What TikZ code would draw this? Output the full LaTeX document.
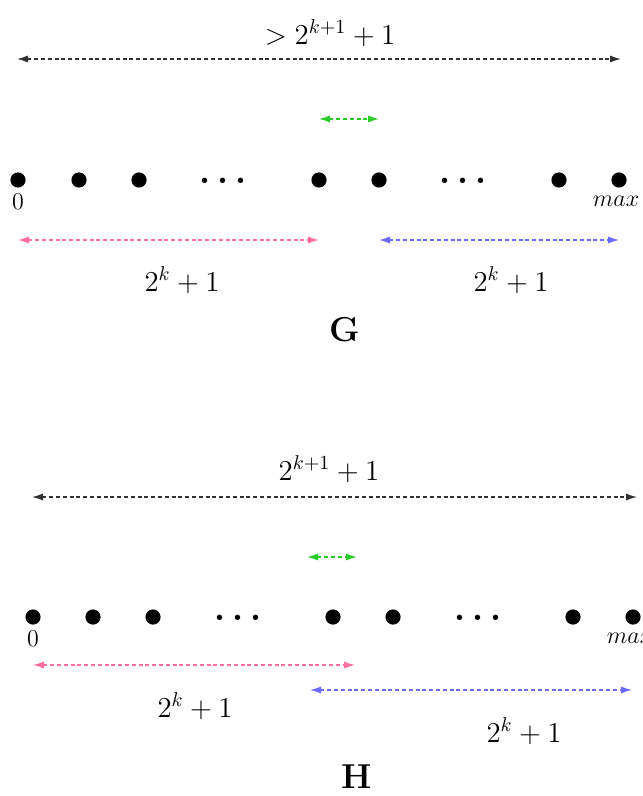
\documentclass[tikz,border=0pt]{standalone}
\usetikzlibrary{arrows.meta}
\definecolor{dkg}{RGB}{50,50,50}
\definecolor{grn}{RGB}{40,205,40}
\definecolor{pnk}{RGB}{255,110,160}
\definecolor{blu}{RGB}{105,105,255}
\begin{document}
\begin{tikzpicture}[x=0.5pt,y=-0.5pt,
  dot/.style={circle,fill=black,inner sep=0pt,minimum width=6.8pt,minimum height=7.6pt},
  span/.style={dash pattern=on 2pt off 1.4pt, line width=0.7pt, {Latex[length=5.5pt,width=3.6pt]}-{Latex[length=5.5pt,width=3.6pt]}},
  lbl/.style={font=\Large, inner sep=0pt},
  ell/.style={font=\LARGE\boldmath, inner sep=0pt},
  small/.style={font=\large, inner sep=0pt},
  title/.style={font=\LARGE\bfseries, inner sep=0pt}]
\useasboundingbox (0,0) rectangle (642,796);
% ---------------- G ----------------
\node[lbl] (gtop) at (330,33) {$>2^{k+1}+1$};
\coordinate (gtl) at (17,59);
\coordinate (gtr) at (621,59);
\draw[span,dkg] (gtl) -- (gtr);
\coordinate (ggl) at (319,119);
\coordinate (ggr) at (379,119);
\draw[span,grn] (ggl) -- (ggr);
\node[dot] (g0) at (18,180) {};
\node[dot] (g1) at (79,180) {};
\node[dot] (g2) at (139,180) {};
\node[ell] (ge1) at (223,181) {$\cdots$};
\node[dot] (g3) at (319,180) {};
\node[dot] (g4) at (379,180) {};
\node[ell] (ge2) at (463,181) {$\cdots$};
\node[dot] (g5) at (559,180) {};
\node[dot] (g6) at (619,180) {};
\node[small] (gz) at (18,202) {0};
\node[small] (gmax) at (616,201) {$max$};
\coordinate (gpl) at (18,240);
\coordinate (gpr) at (319,240);
\draw[span,pnk] (gpl) -- (gpr);
\coordinate (gbl) at (379,240);
\coordinate (gbr) at (619,240);
\draw[span,blu] (gbl) -- (gbr);
\node[lbl] (gl1) at (182,280) {$2^k+1$};
\node[lbl] (gl2) at (511,280) {$2^k+1$};
\node[title] (G) at (345,330) {G};
% ---------------- H ----------------
\node[lbl] (htop) at (329,469) {$2^{k+1}+1$};
\coordinate (htl) at (32,497);
\coordinate (htr) at (637,497);
\draw[span,dkg] (htl) -- (htr);
\coordinate (hgl) at (307,557);
\coordinate (hgr) at (357,557);
\draw[span,grn] (hgl) -- (hgr);
\node[dot] (h0) at (33,617) {};
\node[dot] (h1) at (93,617) {};
\node[dot] (h2) at (153,617) {};
\node[ell] (he1) at (238,618) {$\cdots$};
\node[dot] (h3) at (333,617) {};
\node[dot] (h4) at (393,617) {};
\node[ell] (he2) at (478,618) {$\cdots$};
\node[dot] (h5) at (573,617) {};
\node[dot] (h6) at (633,617) {};
\node[small] (hz) at (33,639) {0};
\node[small] (hmax) at (630,638) {$max$};
\coordinate (hpl) at (33,665);
\coordinate (hpr) at (355,665);
\draw[span,pnk] (hpl) -- (hpr);
\coordinate (hbl) at (310,690);
\coordinate (hbr) at (632,690);
\draw[span,blu] (hbl) -- (hbr);
\node[lbl] (hl1) at (195,706) {$2^k+1$};
\node[lbl] (hl2) at (524,731) {$2^k+1$};
\node[title] (H) at (357,777) {H};
\end{tikzpicture}
\end{document}
